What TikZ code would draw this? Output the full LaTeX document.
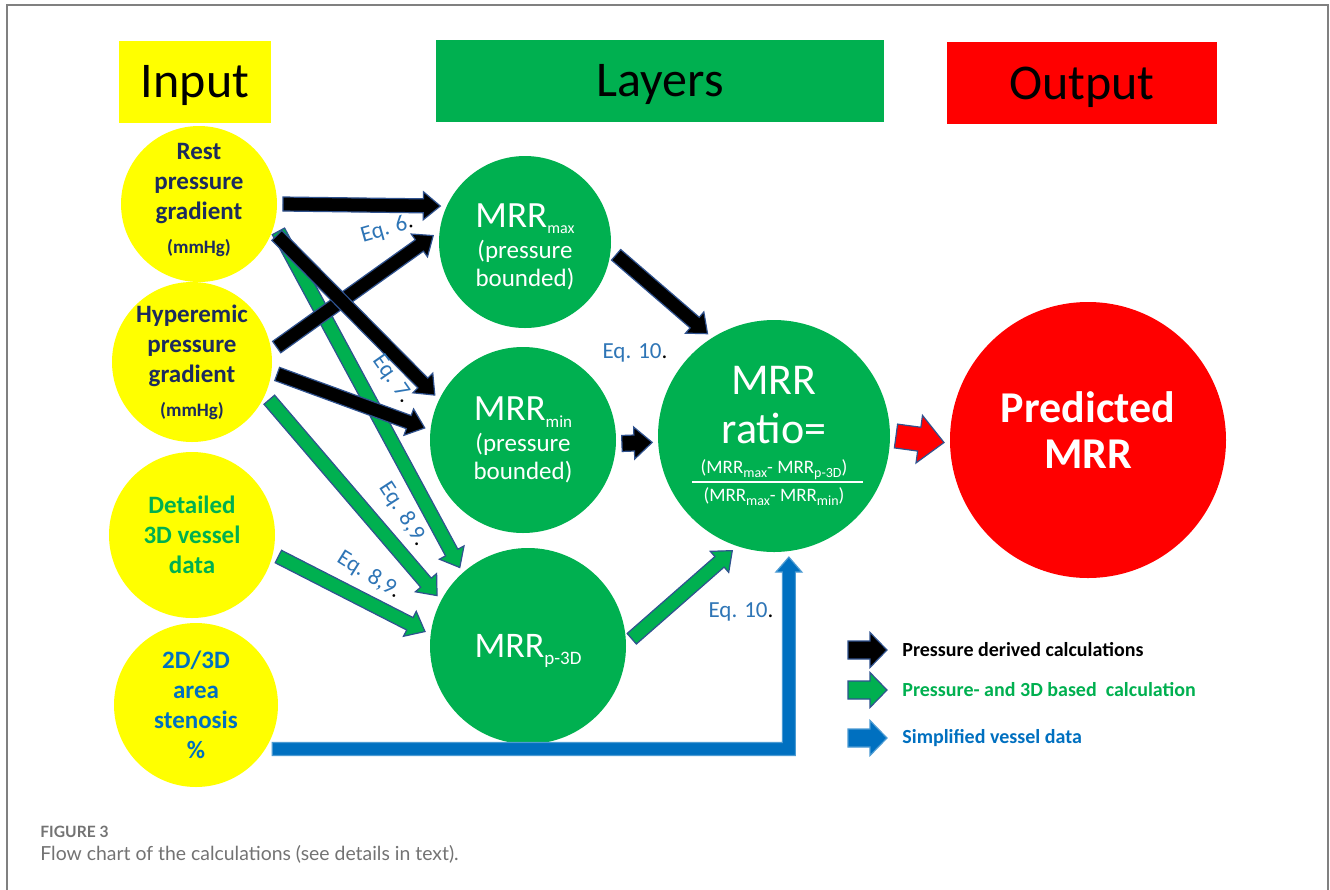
\documentclass[tikz,border=0pt]{standalone}
\usepackage{fontspec}
\setmainfont{Carlito}
\newfontfamily\capfont{Lato}
\usetikzlibrary{calc}

\definecolor{mrrgreen}{HTML}{00B050}
\definecolor{inyellow}{HTML}{FFFF00}
\definecolor{outred}{HTML}{FF0000}
\definecolor{vesselblue}{HTML}{0070C0}
\definecolor{eqblue}{HTML}{2E75B6}
\definecolor{navy}{HTML}{1C2B5E}
\definecolor{arrline}{HTML}{2F528F}
\definecolor{framegray}{HTML}{808080}
\definecolor{capgray}{HTML}{737373}

\newcommand\txtsize[2]{\fontsize{#1}{#2}\selectfont}
\newcommand\lowtxt[3][2pt]{\raisebox{-#1}{\fontsize{#2}{#2}\selectfont #3}}

% half shaft, half head, head length of the block arrows
\newcommand\shaftw{3.5pt}
\newcommand\headw{7pt}
\newcommand\headl{8.5pt}
\newcommand\blockarrow[3][]{%
  \coordinate (ba-s) at (#2);
  \coordinate (ba-t) at (#3);
  \coordinate (ba-n) at ($(ba-t)!\headl!(ba-s)$);
  \filldraw[#1] ($(ba-s)!\shaftw!90:(ba-t)$) -- ($(ba-n)!\shaftw!90:(ba-t)$)
    -- ($(ba-n)!\headw!90:(ba-t)$) -- (ba-t) -- ($(ba-n)!\headw!-90:(ba-t)$)
    -- ($(ba-n)!\shaftw!-90:(ba-t)$) -- ($(ba-s)!\shaftw!-90:(ba-t)$) -- cycle;}

\begin{document}
\begin{tikzpicture}[x=0.5pt, y=-0.5pt,
	inbubble/.style={circle, fill=inyellow, inner sep=0pt, outer sep=3pt, align=center,
		font=\bfseries\txtsize{12.5pt}{15pt}},
	layer/.style={circle, fill=mrrgreen, text=white, inner sep=0pt, outer sep=3pt, align=center,
		font=\txtsize{12.5pt}{14pt}},
	header/.style={minimum height=41pt, inner sep=0pt, text depth=0pt, font=\txtsize{25pt}{30pt}},
	blackarr/.style={fill=black, draw=arrline, line width=0.6pt},
	greenarr/.style={fill=mrrgreen, draw=arrline, line width=0.6pt},
	bluearr/.style={fill=vesselblue, draw=vesselblue!70!white, line width=0.6pt},
	redarr/.style={fill=outred, draw=arrline, line width=0.6pt},
	eqlabel/.style={inner sep=0pt, font=\txtsize{11.5pt}{12pt}},
	legend/.style={anchor=west, inner sep=0pt, font=\bfseries\txtsize{10pt}{12pt}}]
\fill[white] (0,0) rectangle (1330,890);
\useasboundingbox (0,0) rectangle (1330,890);
\draw[framegray, line width=0.8pt] (7,890) |- (1328,5) -- (1328,890);

\node[header, fill=inyellow, minimum width=76pt] (inhead) at (195,81.5) {Input};
\node[header, fill=mrrgreen, minimum width=224pt] (layhead) at (660,80.5) {Layers};
\node[header, fill=outred, minimum width=135pt] (outhead) at (1082,83) {Output};

% inputs
\node[inbubble, text=navy, minimum size=78pt] (rest) at (199,204)
	{Rest\\pressure\\gradient\\[2pt]{\txtsize{9.5pt}{11pt}(mmHg)}\rule[-6pt]{0pt}{0pt}};
\node[inbubble, text=navy, minimum size=80pt] (hyp) at (192,362)
	{Hyperemic\\pressure\\gradient\\[2pt]{\txtsize{9.5pt}{11pt}(mmHg)}};
\node[inbubble, text=mrrgreen, minimum size=83pt] (det) at (192,535)
	{Detailed\\3D vessel\\data};
\node[inbubble, text=vesselblue, minimum size=82pt] (sten) at (196,705)
	{2D/3D\\area\\stenosis\\\%};

% layers
\node[layer, minimum size=86pt] (max) at (525,242)
	{\rule{0pt}{17pt}{\txtsize{18.5pt}{20pt}MRR\lowtxt[3pt]{8pt}{max}}\\[1.5pt](pressure\\bounded)};
\node[layer, minimum size=93pt] (min) at (523,440)
	{{\txtsize{18.5pt}{20pt}MRR\lowtxt[3.5pt]{8.5pt}{min}}\\[1.5pt](pressure\\bounded)};
\node[layer, minimum size=98pt] (p3d) at (528,646)
	{\rule{0pt}{17pt}\txtsize{18pt}{20pt}MRR\lowtxt[3.5pt]{9.5pt}{p-3D}};
\node[layer, minimum size=116pt, font=\txtsize{22pt}{24.5pt}] (ratio) at (774,436)
	{MRR\\ratio=\\[-9.5pt]{\txtsize{9.5pt}{11pt}(MRR\lowtxt{7pt}{max}- MRR\lowtxt{7pt}{p-3D})}\\[-10.5pt]
	 {\txtsize{9.5pt}{11pt}(MRR\lowtxt{7pt}{max}- MRR\lowtxt{7pt}{min})}};
\draw[white, line width=0.8pt] ($(ratio.center)+(-82,46)$) -- ($(ratio.center)+(89,46)$);

% output
\node[circle, fill=outred, text=white, inner sep=0pt, minimum size=138pt, outer sep=3pt,
	align=center, font=\bfseries\txtsize{22pt}{23pt}] (pred) at (1088,440)
	{Predicted\\MRR\rule[-10pt]{0pt}{0pt}};

% connectors
\blockarrow[greenarr]{rest.-19}{p3d.131}
\blockarrow[greenarr]{hyp.-26}{p3d.151}
\blockarrow[greenarr]{det.-14}{p3d.172}
\blockarrow[greenarr]{p3d.4}{ratio.250}
\blockarrow[blackarr]{hyp.10}{max.176}
\blockarrow[blackarr]{rest.-22}{min.153}
\blockarrow[blackarr]{rest.0}{max.157}
\blockarrow[blackarr]{hyp.-8}{min.173}
\blockarrow[blackarr]{max.-8}{ratio.123}
\begin{scope}
	\renewcommand\shaftw{4pt}\renewcommand\headw{8pt}\renewcommand\headl{9pt}
	\blockarrow[blackarr]{min.-2}{ratio.183}
	\renewcommand\shaftw{6pt}\renewcommand\headw{12pt}\renewcommand\headl{12.5pt}
	\blockarrow[redarr]{ratio.0}{pred.181}
\end{scope}

\coordinate (bendtip) at (ratio.-83);
\coordinate (bendstart) at (sten.-30);
\coordinate (bendcorner) at (bendtip |- bendstart);
\filldraw[bluearr] ($(bendstart)+(0,-6.5)$) -- ($(bendcorner)+(-6.5,-6.5)$)
	-- ($(bendtip)+(-6.5,15)$) -- ($(bendtip)+(-13,15)$) -- (bendtip)
	-- ($(bendtip)+(13,15)$) -- ($(bendtip)+(6.5,15)$) -- ($(bendcorner)+(6.5,6.5)$)
	-- ($(bendstart)+(0,6.5)$) -- cycle;

\node[eqlabel, rotate=16] (eqsix) at (387,229) {\textcolor{eqblue}{Eq. 6}.};
\node[eqlabel, rotate=-55] (eqseven) at (392,379) {\textcolor{eqblue}{Eq. 7}.};
\node[eqlabel, rotate=-57] (eqeightup) at (403,514) {\textcolor{eqblue}{Eq. 8,9}.};
\node[eqlabel, rotate=-32] (eqeightlow) at (369,575) {\textcolor{eqblue}{Eq. 8,9}.};
\node[eqlabel] (eqtenup) at (635,353) {\textcolor{eqblue}{Eq. 10}.};
\node[eqlabel] (eqtenlow) at (741,612) {\textcolor{eqblue}{Eq. 10}.};

% legend
\node[legend] (legpress) at (902,650) {Pressure derived calculations};
\node[legend, text=mrrgreen] (legmixed) at (902,690) {Pressure- and 3D based\ \ calculation};
\node[legend, text=vesselblue] (legvessel) at (902,738) {Simplified vessel data};
\begin{scope}
	\renewcommand\shaftw{4.5pt}\renewcommand\headw{8.75pt}
	\blockarrow[blackarr]{$(legpress.west)+(-54,0)$}{$(legpress.west)+(-15,0)$}
	\blockarrow[greenarr]{$(legmixed.west)+(-54,0)$}{$(legmixed.west)+(-15,0)$}
	\blockarrow[bluearr]{$(legvessel.west)+(-54,0)$}{$(legvessel.west)+(-15,0)$}
\end{scope}

\node[anchor=west, inner sep=0pt, text=capgray, font=\capfont\bfseries\txtsize{7.8pt}{9pt}]
	(figno) at (40,832) {FIGURE 3};
\node[anchor=west, inner sep=0pt, text=capgray, font=\capfont\txtsize{9.7pt}{11pt}]
	(figcap) at (40,854) {Flow chart of the calculations (see details in text).};
\end{tikzpicture}
\end{document}
